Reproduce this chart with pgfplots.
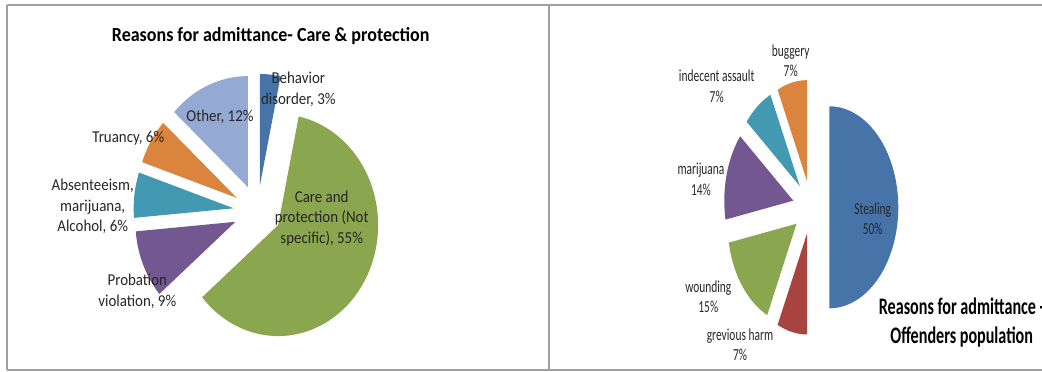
\documentclass[border=0pt]{standalone}
\usepackage{pgfplots}
\pgfplotsset{compat=1.18}
\usepackage{fontspec}
\setmainfont{Carlito}
\definecolor{cBlue}{HTML}{4674A9}
\definecolor{cRed}{HTML}{A8433F}
\definecolor{cGreen}{HTML}{8AA64F}
\definecolor{cPurple}{HTML}{735791}
\definecolor{cTeal}{HTML}{4399B1}
\definecolor{cOrange}{HTML}{DB843D}
\definecolor{cLight}{HTML}{95AAD3}
\definecolor{cText}{HTML}{262626}
\definecolor{cFrame}{HTML}{A0A0A0}

% #1 cx, #2 cy, #3 x-radius, #4 y-radius, #5 explosion, #6 value/colour list (clockwise from 12 o'clock)
\newcommand{\drawpie}[6]{%
  \xdef\pietotal{0}%
  \foreach \v/\c in {#6} {\pgfmathsetmacro\tmp{\pietotal+\v}\xdef\pietotal{\tmp}}%
  \xdef\piecum{0}%
  \foreach \v/\c in {#6} {%
    \pgfmathsetmacro\sa{360*(\piecum/\pietotal)}%
    \pgfmathsetmacro\ea{360*((\piecum+\v)/\pietotal)}%
    \pgfmathsetmacro\ma{(\sa+\ea)/2}%
    \pgfmathsetmacro\px{#1+#5*#3*sin(\ma)}%
    \pgfmathsetmacro\py{#2-#5*#4*cos(\ma)}%
    \edef\temp{\noexpand\addplot[fill=\c, draw=none, domain=\sa:\ea, samples=80, variable=\noexpand\t]
      ({\px+#3*sin(\noexpand\t)}, {\py-#4*cos(\noexpand\t)}) -- (axis cs:\px,\py) -- cycle;}%
    \temp
    \pgfmathsetmacro\tmp{\piecum+\v}\xdef\piecum{\tmp}%
  }%
}

\begin{document}
\begin{tikzpicture}
\clip (0,0) rectangle (1042pt,372pt);
\useasboundingbox (0,0) rectangle (1042pt,372pt);
\begin{axis}[
  at={(0,0)}, anchor=south west,
  width=1042pt, height=372pt, scale only axis,
  xmin=0, xmax=1042, ymin=0, ymax=372, y dir=reverse,
  hide axis, clip=false,
]
% frame
\draw[cFrame, line width=1.8pt] (axis cs:7,5) -- (axis cs:1050,5);
\draw[cFrame, line width=1.8pt] (axis cs:7,370) -- (axis cs:1050,370);
\draw[cFrame, line width=1.8pt] (axis cs:7,5) -- (axis cs:7,370);
\draw[cFrame, line width=1.8pt] (axis cs:549,5) -- (axis cs:549,370);

% left pie: Care & protection
\drawpie{257.5}{211.5}{100}{111}{0.24}{3/cBlue, 55/cGreen, 9/cPurple, 6/cTeal, 6/cOrange, 12/cLight}
% right pie: Offenders population
\drawpie{811}{207.3}{69}{101}{0.265}{50/cBlue, 7/cRed, 15/cGreen, 14/cPurple, 7/cTeal, 7/cOrange}

% left texts
\node[xscale=0.9, font=\bfseries\fontsize{20}{24}\selectfont, text=black] at (axis cs:270.7,36) {Reasons for admittance- Care \& protection};
\begin{scope}[every node/.style={xscale=0.9, align=center, text=cText, font=\fontsize{16.6}{20.6}\selectfont, inner sep=0pt}]
\node at (axis cs:298.3,89.3) {Behavior\\disorder, 3\%};
\node at (axis cs:220,116.7) {Other, 12\%};
\node at (axis cs:128.3,138.3) {Truancy, 6\%};
\node at (axis cs:92.7,206.5) {Absenteeism,\\marijuana,\\Alcohol, 6\%};
\node at (axis cs:321.7,218.5) {Care and\\protection (Not\\specific), 55\%};
\node at (axis cs:137.3,291) {Probation\\violation, 9\%};
\end{scope}

% right texts
\begin{scope}[every node/.style={xscale=0.68, align=center, text=cText, font=\fontsize{16.8}{20.4}\selectfont, inner sep=0pt}]
\node at (axis cs:790.7,60.7) {buggery\\7\%};
\node at (axis cs:716.7,86.3) {indecent assault\\7\%};
\node at (axis cs:701,179.3) {marijuana\\14\%};
\node at (axis cs:872.7,218.5) {Stealing\\50\%};
\node at (axis cs:708.3,296.7) {wounding\\15\%};
\node at (axis cs:740,345) {grevious harm\\7\%};
\end{scope}
\node[xscale=0.68, align=center, text=black, inner sep=0pt, font=\bfseries\fontsize{23.7}{29}\selectfont] at (axis cs:961.7,322.5) {Reasons for admittance -\\Offenders population};
\end{axis}
\end{tikzpicture}
\end{document}
